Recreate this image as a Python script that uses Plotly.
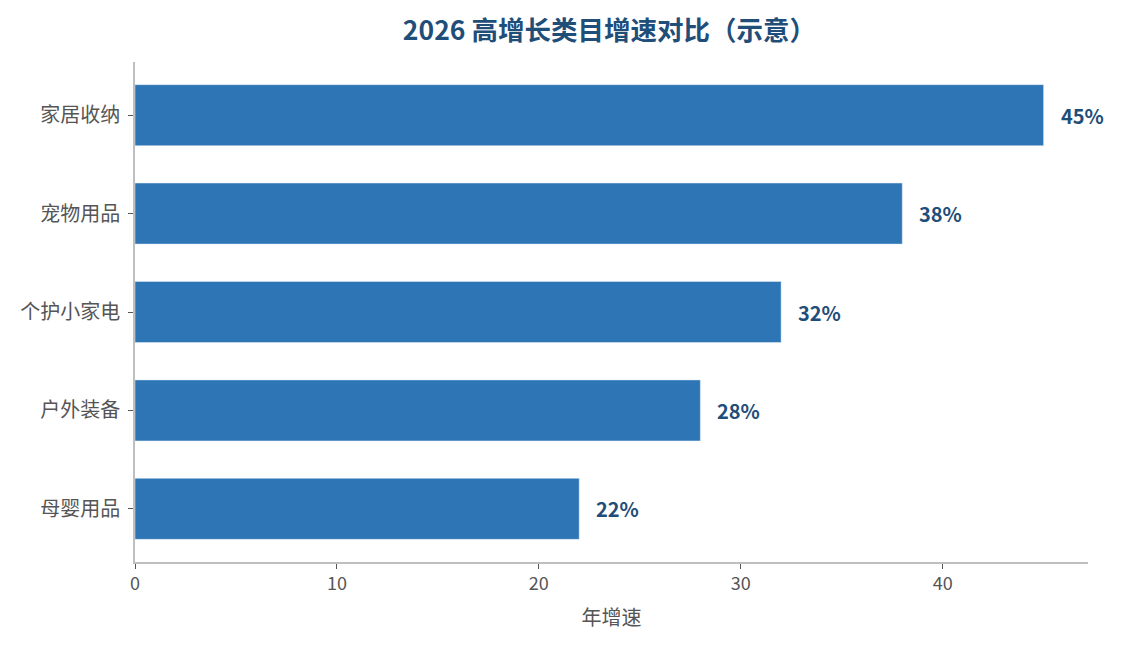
import plotly.graph_objects as go

categories = ["母婴用品", "户外装备", "个护小家电", "宠物用品", "家居收纳"]
growth = [22, 28, 32, 38, 45]
labels = [f"{v}%" for v in growth]

font_family = "Noto Sans CJK SC, Noto Sans, sans-serif"

fig = go.Figure()
fig.add_trace(go.Bar(
    x=growth,
    y=categories,
    orientation="h",
    marker=dict(color="#2e75b6"),
    width=0.62,
    hoverinfo="skip",
))

# value labels to the right of each bar
for cat, val, lab in zip(categories, growth, labels):
    fig.add_annotation(
        x=val, y=cat, text=f"<b>{lab}</b>",
        xanchor="left", yanchor="middle", xshift=15,
        showarrow=False,
        font=dict(color="#1f4e79", size=20, family=font_family),
    )

fig.update_layout(
    width=1122,
    height=645,
    margin=dict(l=127, r=42, t=54, b=91),
    paper_bgcolor="white",
    plot_bgcolor="white",
    font=dict(family=font_family, size=20, color="#555555"),
    title=dict(
        text="<b>2026 高增长类目增速对比（示意）</b>",
        x=0.536,
        xref="container",
        xanchor="center",
        y=0.964,
        yref="container",
        yanchor="middle",
        font=dict(size=26.5, color="#1f4e79", family=font_family),
    ),
    showlegend=False,
)

fig.update_xaxes(
    range=[0, 47.2],
    dtick=10,
    showgrid=False,
    zeroline=False,
    showline=True,
    linecolor="#bfbfbf",
    linewidth=1.5,
    ticks="outside",
    ticklen=5,
    tickcolor="#555555",
    tickfont=dict(size=18, color="#555555"),
    title=dict(text="年增速", font=dict(size=20, color="#555555"), standoff=17),
)
fig.update_yaxes(
    range=[-0.54, 4.54],
    showgrid=False,
    zeroline=False,
    showline=True,
    linecolor="#bfbfbf",
    linewidth=1.5,
    ticks="outside",
    ticklen=5,
    tickcolor="#555555",
    tickfont=dict(size=20, color="#555555"),
    ticklabelstandoff=4,
)

fig.write_html("out.html")
